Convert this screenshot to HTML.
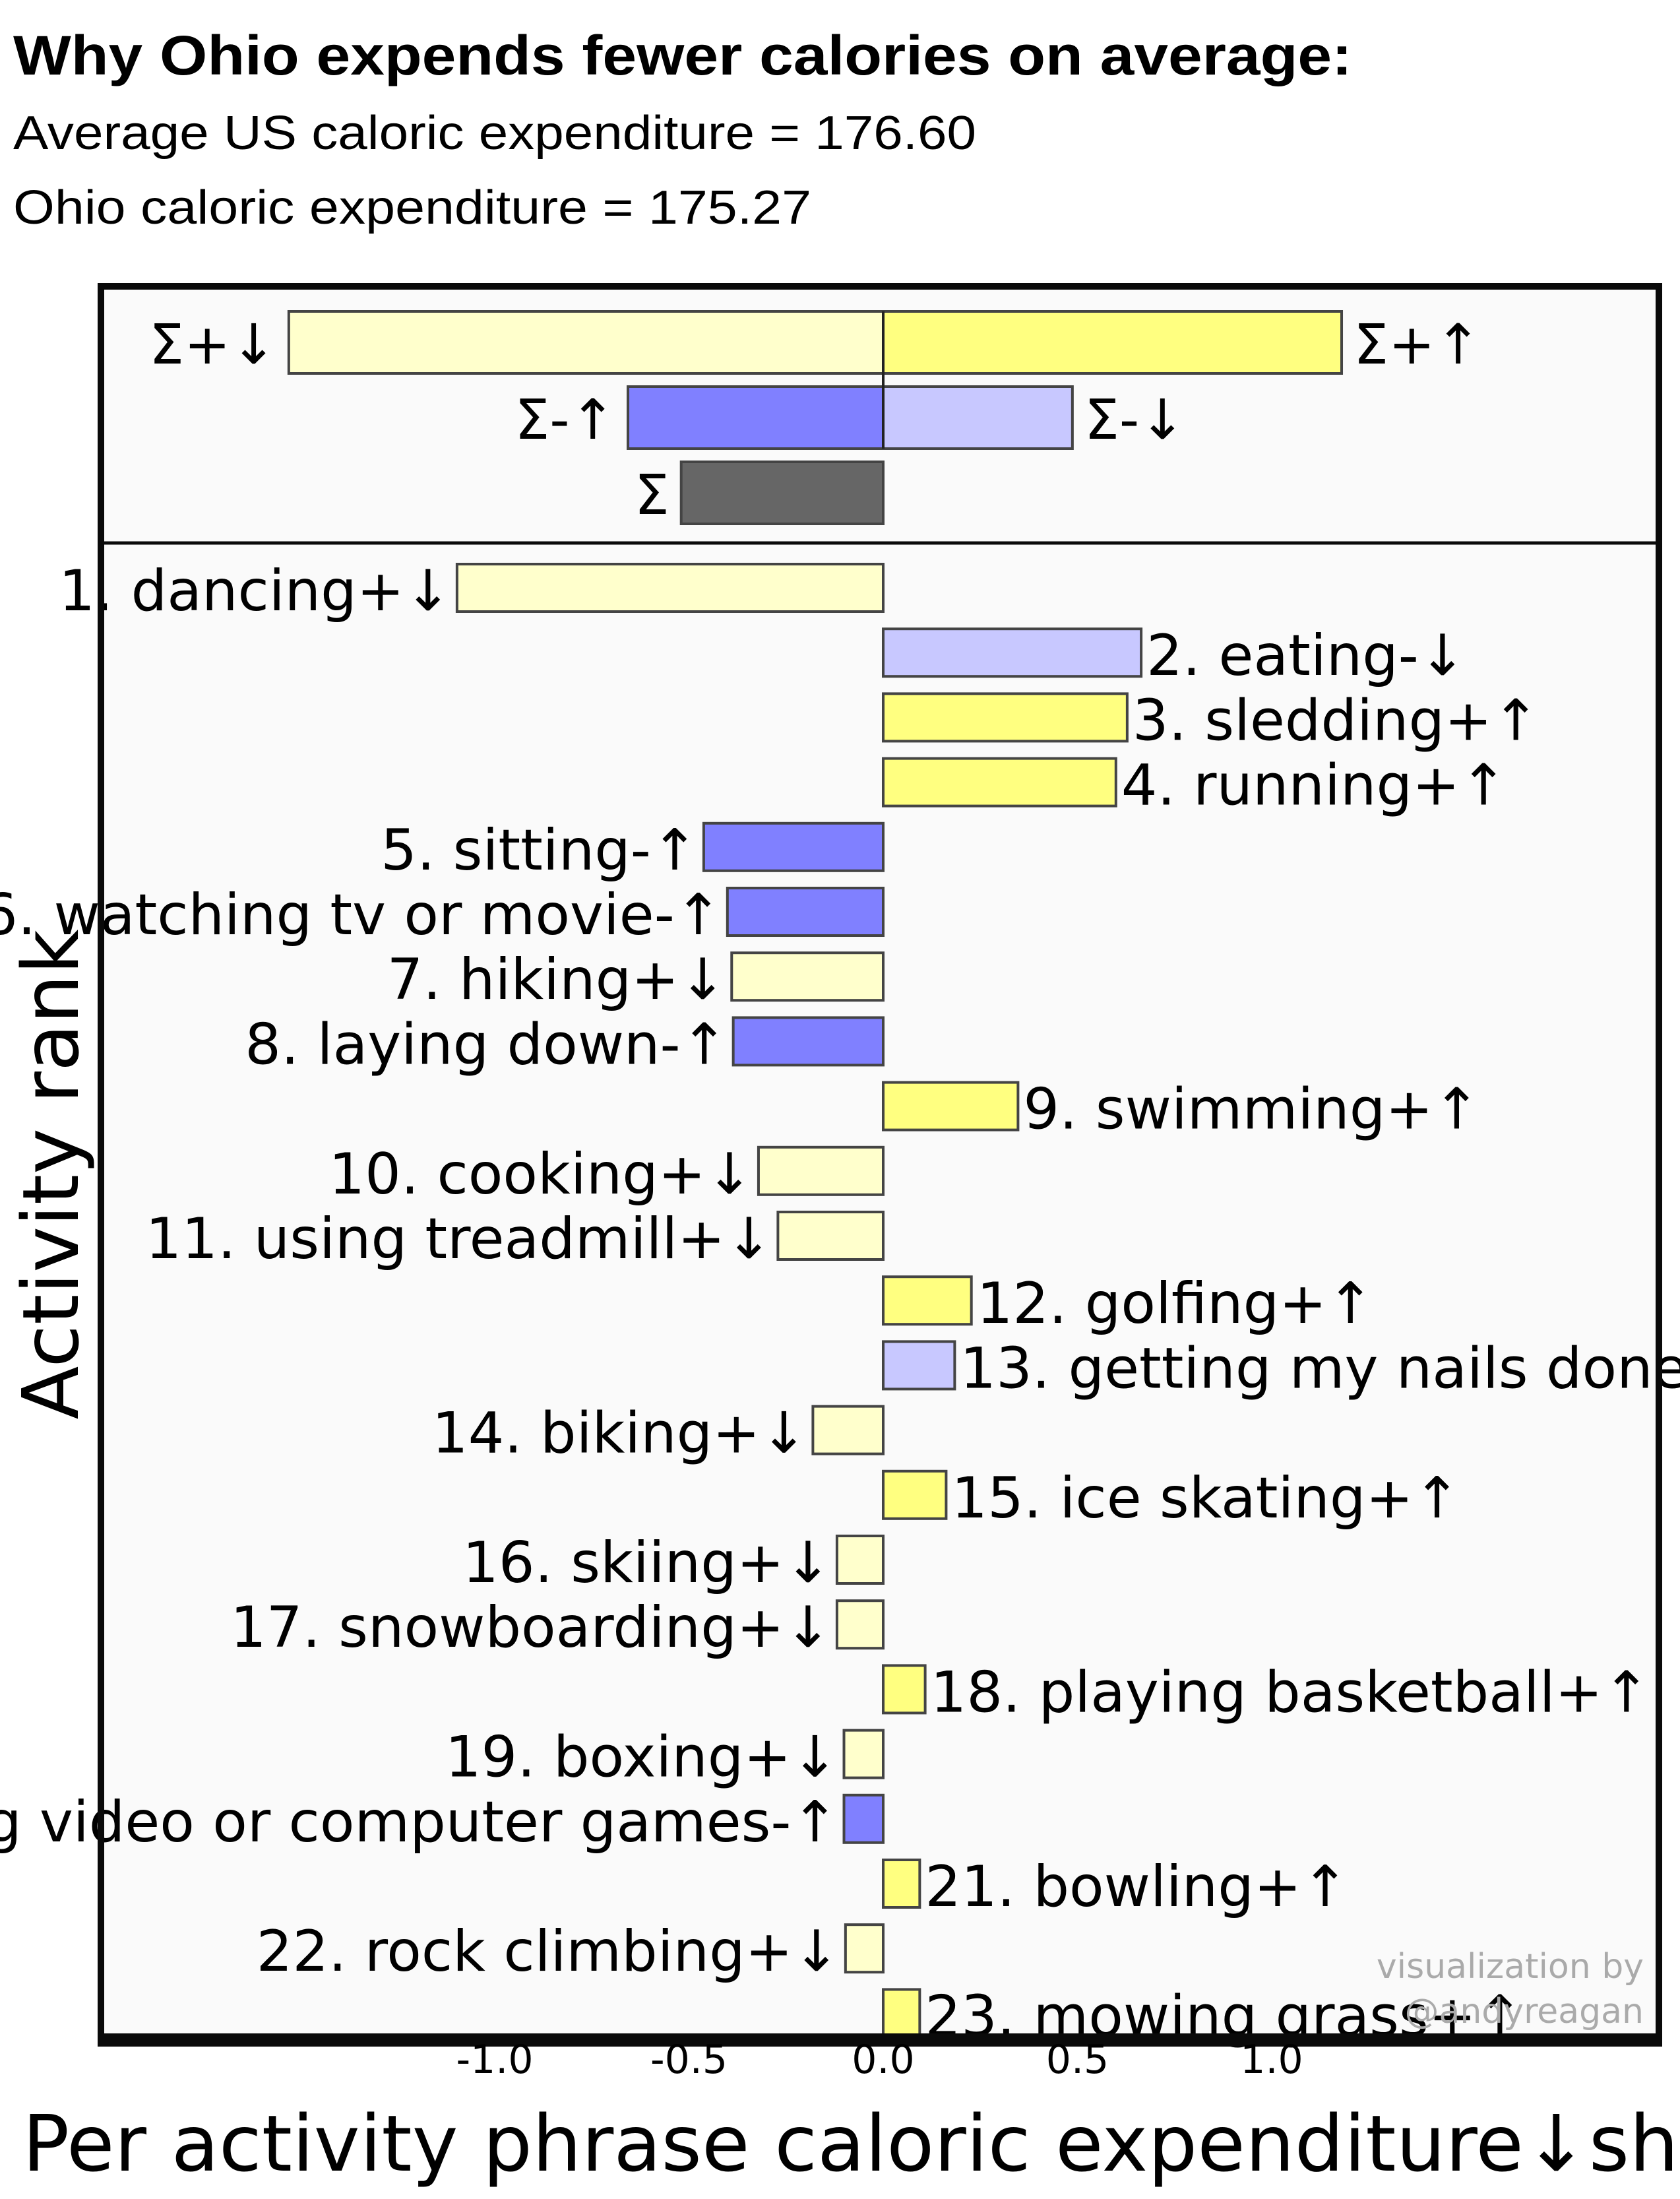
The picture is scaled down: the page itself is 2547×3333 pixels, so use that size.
<!DOCTYPE html>
<html><head><meta charset="utf-8"><style>
html,body{margin:0;padding:0;background:#fff;}
svg{display:block;}
</style></head><body>
<svg id="chart" width="2547" height="3333" viewBox="0 0 2547 3333" xmlns="http://www.w3.org/2000/svg">
<text x="20" y="113" font-family="Liberation Sans, sans-serif" font-weight="bold" font-size="84" textLength="2030" lengthAdjust="spacingAndGlyphs">Why Ohio expends fewer calories on average:</text>
<text x="20" y="226" font-family="Liberation Sans, sans-serif" font-size="72" textLength="1460" lengthAdjust="spacingAndGlyphs">Average US caloric expenditure = 176.60</text>
<text x="20" y="339" font-family="Liberation Sans, sans-serif" font-size="72" textLength="1210" lengthAdjust="spacingAndGlyphs">Ohio caloric expenditure = 175.27</text>
<rect x="153" y="434" width="2362" height="2659" fill="#fafafa"/>
<g id="marks"></g>
<rect x="153" y="434" width="2362" height="2659" fill="none" stroke="#0a0a0a" stroke-width="10"/>
<line x1="148" y1="3092" x2="2520" y2="3092" stroke="#0a0a0a" stroke-width="20"/>
<line x1="153" y1="823" x2="2515" y2="823" stroke="#0a0a0a" stroke-width="5"/>
<g id="ticks"></g>
<text transform="translate(118,1780) rotate(-90)" text-anchor="middle" font-family="DejaVu Sans, sans-serif" font-size="118">Activity rank</text>
<text x="34" y="3290" font-family="DejaVu Sans, sans-serif" font-size="118">Per activity phrase caloric expenditure↓shift</text>
<text x="2492" y="2998" text-anchor="end" font-family="DejaVu Sans, sans-serif" font-size="52" fill="#aaaaaa">visualization by</text>
<text x="2492" y="3066" text-anchor="end" font-family="DejaVu Sans, sans-serif" font-size="52" fill="#aaaaaa">@andyreagan</text>
</svg>
<script>
const summaryLabels = ["Σ+↓","Σ+↑","Σ-↑","Σ-↓","Σ"];
const summaryValues = [-1.53, 1.18, -0.657, 0.487, -0.52];
const summaryRows = [0, 0, 1, 1, 2];
const summaryKinds = ["pd","pu","mu","md","sum"];
const activityNames = ["dancing+↓","eating-↓","sledding+↑","running+↑","sitting-↑","watching tv or movie-↑","hiking+↓","laying down-↑","swimming+↑","cooking+↓","using treadmill+↓","golfing+↑","getting my nails done-↓","biking+↓","ice skating+↑","skiing+↓","snowboarding+↓","playing basketball+↑","boxing+↓","playing video or computer games-↑","bowling+↑","rock climbing+↓","mowing grass+↑"];
const activityValues = [-1.097,0.664,0.628,0.599,-0.462,-0.401,-0.390,-0.386,0.347,-0.321,-0.271,0.227,0.184,-0.181,0.162,-0.119,-0.119,0.108,-0.101,-0.101,0.094,-0.097,0.094];
const activityKinds = ["pd","md","pu","pu","mu","mu","pd","mu","pu","pd","pd","pu","md","pd","pu","pd","pd","pu","pd","mu","pu","pd","pu"];
const tickValues = [-1.0,-0.5,0.0,0.5,1.0];
const tickLabels = ["-1.0","-0.5","0.0","0.5","1.0"];

const NS = "http://www.w3.org/2000/svg";
const X0 = 1339, UNIT = 589;
const xs = v => X0 + v * UNIT;
const sumY = r => 472 + r * 114;
const rowY = i => 891 + i * 98.2;
const colors = {pd:"#ffffcc", pu:"#ffff80", mu:"#8080ff", md:"#c8c8ff", sum:"#666666"};
const marks = document.getElementById("marks");
function mk(tag, attrs){const e=document.createElementNS(NS,tag);for(const k in attrs)e.setAttribute(k,attrs[k]);return e;}

summaryValues.forEach((v,i)=>{
  const x=Math.min(xs(0),xs(v)), w=Math.abs(xs(v)-xs(0)), y=sumY(summaryRows[i]);
  const r=mk("rect",{x:x,y:y,width:w,height:94,fill:colors[summaryKinds[i]],stroke:"#444",'stroke-width':4});
  
  
  marks.appendChild(r);
  const t=mk("text",{x: v<0 ? x-18 : x+w+18, y:y+50,'dominant-baseline':'central','text-anchor': v<0?'end':'start','font-family':'DejaVu Sans, sans-serif','font-size':84});
  t.textContent=summaryLabels[i];
  
  
  marks.appendChild(t);
});
marks.appendChild(mk("line",{x1:xs(0),y1:sumY(0),x2:xs(0),y2:sumY(1)+94,stroke:"#222",'stroke-width':4}));

activityValues.forEach((v,i)=>{
  const x=Math.min(xs(0),xs(v)), w=Math.abs(xs(v)-xs(0)), yc=rowY(i);
  const r=mk("rect",{x:x,y:yc-36,width:w,height:72,fill:colors[activityKinds[i]],stroke:"#444",'stroke-width':4});
  
  
  marks.appendChild(r);
  const t=mk("text",{x: v<0 ? x-8 : x+w+8, y:yc+5,'dominant-baseline':'central','text-anchor': v<0?'end':'start','font-family':'DejaVu Sans, sans-serif','font-size':86});
  t.textContent=(i+1)+". "+activityNames[i];
  
  
  marks.appendChild(t);
});

const ticks=document.getElementById("ticks");
tickValues.forEach((v,i)=>{
  const t=mk("text",{x:xs(v),y:3142,'text-anchor':'middle','font-family':'DejaVu Sans, sans-serif','font-size':60});
  t.textContent=tickLabels[i];
  
  
  ticks.appendChild(t);
});
</script>
</body></html>
